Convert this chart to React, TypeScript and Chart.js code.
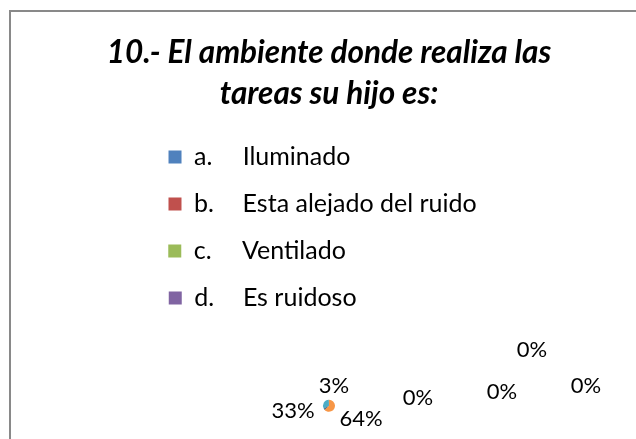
import React, { useEffect, useRef } from 'react';
import { Chart, registerables } from 'chart.js';

Chart.register(...registerables);

// ---- data ----
const TITLE_LINES = ['10.- El ambiente donde realiza las', 'tareas su hijo es:'];
const CATEGORIES = [
  'a.\tIluminado',
  'b.\tEsta alejado del ruido',
  'c.\tVentilado',
  'd.\tEs ruidoso',
  '',
  '',
  '',
];
const VALUES = [0, 0, 0, 0, 33, 64, 3];
const LEGEND_COUNT = 4;
const COLORS = ['#4F81BD', '#C0504D', '#9BBB59', '#8064A2', '#4BACC6', '#F79646', '#2C4D75'];

// ---- label layout (offsets from the pie centre) ----
const LABEL_OFFSETS: number[][] = [
  [89, -8],
  [173, -14],
  [203, -56],
  [257, -20],
  [-36, 5],
  [32, 13],
  [5, -20],
];

const FONT = 'Lato, "Open Sans", sans-serif';
const LEGEND_SIZE = 25;
const TAB_W = 49;
const TEXT_W = 296;

function padTo(ctx: CanvasRenderingContext2D, s: string, target: number) {
  let out = s;
  let guard = 0;
  while (ctx.measureText(out + ' ').width <= target && guard++ < 300) out += ' ';
  const hs = '\u200A';
  const w0 = ctx.measureText(out).width;
  if (ctx.measureText(out + hs).width > w0) {
    while (ctx.measureText(out + hs).width <= target && guard++ < 600) out += hs;
  }
  return out;
}

const pctLabels = {
  id: 'pctLabels',
  afterDatasetsDraw(chart: any) {
    const meta = chart.getDatasetMeta(0);
    const data = chart.data.datasets[0].data as number[];
    const total = data.reduce((a, b) => a + b, 0);
    const ctx = chart.ctx as CanvasRenderingContext2D;
    ctx.save();
    ctx.font = `22px ${FONT}`;
    ctx.fillStyle = '#000';
    ctx.textAlign = 'center';
    ctx.textBaseline = 'middle';
    meta.data.forEach((arc: any, i: number) => {
      const { x, y } = arc.getProps(['x', 'y'], true);
      const [dx, dy] = LABEL_OFFSETS[i];
      const pct = Math.round((data[i] / total) * 100);
      ctx.fillText(`${pct}%`, x + dx, y + dy);
    });
    ctx.restore();
  },
};

export default function App() {
  const ref = useRef<HTMLCanvasElement>(null);

  useEffect(() => {
    if (!ref.current) return;
    const baseGen = (Chart as any).overrides.doughnut.plugins.legend.labels.generateLabels;
    const chart = new Chart(ref.current, {
      type: 'pie',
      data: {
        labels: CATEGORIES,
        datasets: [
          {
            data: VALUES,
            backgroundColor: COLORS,
            borderWidth: 0,
            radius: 6,
          } as any,
        ],
      },
      options: {
        responsive: false,
        animation: false,
        events: [],
        rotation: 240,
        layout: { padding: 0 },
        plugins: {
          title: {
            display: true,
            text: TITLE_LINES,
            color: '#000',
            font: { family: FONT, size: 31.5, weight: 'bold', style: 'italic', lineHeight: 41 / 31.5 },
            padding: { top: 20.5, bottom: 8 },
          },
          legend: {
            position: 'top',
            align: 'center',
            labels: {
              boxWidth: 13,
              boxHeight: 13,
              padding: 22,
              color: '#000',
              font: { family: FONT, size: LEGEND_SIZE },
              generateLabels: (c: any) => {
                const base = baseGen(c);
                const ctx = c.ctx as CanvasRenderingContext2D;
                ctx.save();
                ctx.font = `normal normal ${LEGEND_SIZE}px ${FONT}`;
                const items = base
                  .filter((it: any) => it.index < LEGEND_COUNT)
                  .map((it: any) => {
                    const [pre, name] = String(CATEGORIES[it.index]).split('\t');
                    const text = padTo(ctx, padTo(ctx, pre, TAB_W) + name, TEXT_W);
                    return { ...it, text, lineWidth: 0 };
                  });
                ctx.restore();
                return items;
              },
            },
          },
          tooltip: { enabled: false },
        },
      } as any,
      plugins: [pctLabels],
    });
    return () => chart.destroy();
  }, []);

  return (
    <div style={{ position: 'fixed', left: 0, top: 0, width: 636, height: 439, overflow: 'hidden', background: '#fff' }}>
      <div
        style={{
          position: 'absolute',
          left: 9,
          top: 10,
          width: 700,
          height: 600,
          borderTop: '2px solid #898989',
          borderLeft: '2px solid #898989',
          background: '#fff',
        }}
      >
        <canvas ref={ref} width={636} height={479} style={{ display: 'block', width: 636, height: 479 }} />
      </div>
    </div>
  );
}
